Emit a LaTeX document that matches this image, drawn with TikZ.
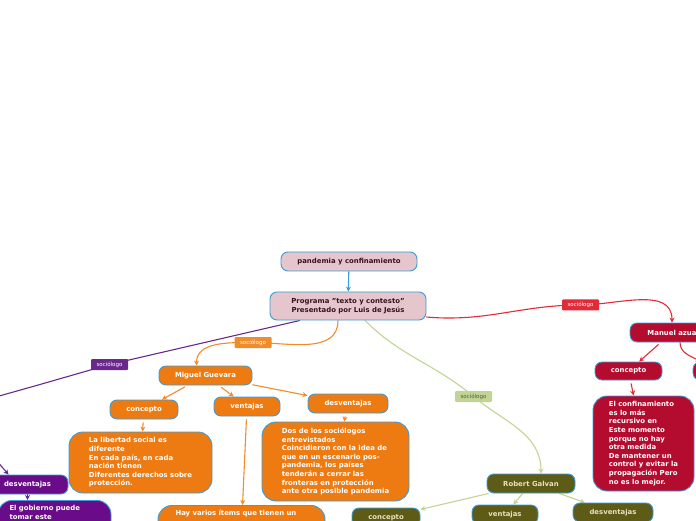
\documentclass[tikz,border=0pt]{standalone}
\usepackage{fontspec}
\setmainfont{DejaVu Sans}
\usepackage{tikz}
\usetikzlibrary{arrows.meta,backgrounds,calc}
\definecolor{mapblue}{RGB}{59,156,217}
\definecolor{rootpink}{RGB}{228,198,204}
\definecolor{roottext}{RGB}{58,16,32}
\definecolor{mgorange}{RGB}{238,123,18}
\definecolor{orangeline}{RGB}{241,140,42}
\definecolor{mared}{RGB}{179,12,47}
\definecolor{redline}{RGB}{226,42,56}
\definecolor{rgolive}{RGB}{94,91,23}
\definecolor{oliveline}{RGB}{193,212,148}
\definecolor{olivetext}{RGB}{230,226,190}
\definecolor{tagolive}{RGB}{88,88,60}
\definecolor{govpurple}{RGB}{106,11,138}
\definecolor{purpleline}{RGB}{106,40,140}
\newcommand{\topicfont}{\fontsize{6.9}{8.6}\selectfont\bfseries}
\newcommand{\tagfont}{\fontsize{5.5}{6.5}\selectfont}
\tikzset{
  topic/.style={rectangle, rounded corners=7pt, draw=mapblue, line width=0.9pt,
                minimum height=19pt, inner sep=3pt, font=\topicfont, text=white},
  roottopic/.style={topic, fill=rootpink, text=roottext},
  orangetopic/.style={topic, fill=mgorange},
  redtopic/.style={topic, fill=mared},
  olivetopic/.style={topic, fill=rgolive, text=olivetext},
  purpletopic/.style={topic, fill=govpurple},
  textbox/.style={rounded corners=14pt, align=left},
  tag/.style={rectangle, rounded corners=1pt, font=\tagfont, text=white,
              minimum width=37pt, minimum height=11pt, inner sep=1pt},
  arrow/.style={-{Stealth[length=5pt,width=5pt]}, line width=1.1pt},
  redarrow/.style={arrow, redline},
  orangearrow/.style={arrow, orangeline},
  olivearrow/.style={arrow, oliveline},
  purplearrow/.style={arrow, purpleline},
}
\begin{document}
\begin{tikzpicture}[x=1pt,y=1pt]
\useasboundingbox (0,0) rectangle (696,520);
% central topics
\node[roottopic, minimum width=136pt] (root) at (349,258.5) {pandemia y confinamiento};
\node[roottopic, minimum width=156pt, minimum height=28pt, align=center] (prog) at (348,214) {Programa "texto y contesto"\\Presentado por Luis de Jesús};

% Manuel azua
\node[redtopic, minimum width=84pt] (manuel) at (672,187.5) {Manuel azua};
\node[redtopic, minimum width=67pt, minimum height=18pt] (rconcept) at (628.5,149) {concepto};
\node[redtopic, minimum width=67pt, minimum height=18pt] (rvent) at (726.5,149) {};
\node[redtopic, textbox, minimum width=101pt, minimum height=95pt] (rbox) at (643.5,76.5) {El confinamiento\\es lo más\\recursivo en\\Este momento\\porque no hay\\otra medida\\De mantener un\\control y evitar la\\propagación Pero\\no es lo mejor.};

% Miguel Guevara
\node[orangetopic, minimum width=93pt] (miguel) at (205.5,144.5) {Miguel Guevara};
\node[orangetopic, minimum width=68pt] (oconcept) at (144,110.5) {concepto};
\node[orangetopic, minimum width=66pt] (ovent) at (247,113.5) {ventajas};
\node[orangetopic, minimum width=80pt] (odesv) at (348,116.5) {desventajas};
\node[orangetopic, textbox, minimum width=143pt, minimum height=61pt] (obox1) at (140.5,57.5) {La libertad social es\\diferente\\En cada país, en cada\\nación tienen\\Diferentes derechos sobre\\protección.};
\node[orangetopic, textbox, minimum width=147pt, minimum height=79pt] (obox3) at (335.5,58.5) {Dos de los sociólogos\\entrevistados\\Coincidieron con la idea de\\que en un escenario pos-\\pandemia, los países\\tenderán a cerrar las\\fronteras en protección\\ante otra posible pandemia};
\node[orangetopic, textbox, anchor=north, minimum width=167pt, text width=132pt, text depth=30pt, inner ysep=5pt] (obox2) at (241.5,15) {Hay varios ítems que tienen un};

% purple branch (main topic outside the frame)
\coordinate (pmain) at (-45,112);
\coordinate (pout) at (-4,60);
\node[purpletopic, minimum width=81pt] (pdesv) at (27.5,35.5) {desventajas};
\node[purpletopic, textbox, anchor=north, minimum width=113pt, text width=90pt, text depth=30pt, inner ysep=5pt] (pbox) at (54.5,20) {El gobierno puede\\tomar este};

% Robert Galvan
\node[olivetopic, minimum width=88pt] (robert) at (531,36.5) {Robert Galvan};
\node[olivetopic, minimum width=68pt] (gconcept) at (386,2.5) {concepto};
\node[olivetopic, minimum width=66pt] (gvent) at (505,5.5) {ventajas};
\node[olivetopic, minimum width=80pt] (gdesv) at (613,7.5) {desventajas};

% relation tags
\node[tag, fill=redline] (rtag) at (580.5,215) {sociólogo};
\node[tag, fill=orangeline] (otag) at (253,177.5) {sociólogo};
\node[tag, fill=purpleline] (ptag) at (109.5,155.5) {sociólogo};
\node[tag, fill=oliveline, text=tagolive] (gtag) at (473.5,123.5) {sociólogo};

\begin{scope}[on background layer]
\draw[arrow, mapblue] (root) -- (prog);

\draw[redarrow] (prog.-8) to[out=-5,in=180] (rtag.center) to[out=0,in=90] (manuel.north);
\draw[redarrow, shorten <=3pt] (manuel) -- (rconcept);
\draw[redarrow] ($(manuel.south)+(8,0)$) to[out=-90,in=150] ($(rvent.north west)+(8,0)$);
\draw[redarrow, shorten <=3pt] (rconcept) -- (rbox);

\draw[orangearrow] ($(prog.south)+(-10,0)$) to[out=-90,in=0] (otag.center) to[out=180,in=90] ($(miguel.north)+(-9,0)$);
\draw[orangearrow, shorten <=3pt] (miguel) -- (oconcept);
\draw[orangearrow, shorten <=3pt] (miguel) -- (ovent);
\draw[orangearrow] (miguel) -- (odesv);
\draw[orangearrow, shorten <=3pt] (oconcept) -- (obox1);
\draw[orangearrow, shorten <=3pt] (ovent) -- (obox2);
\draw[orangearrow, shorten <=3pt] (odesv) -- (obox3);

\draw[purplearrow] ($(prog.south)+(-48,0)$) to[out=193,in=13] (ptag.center) to[out=196,in=15] (pmain);
\draw[purplearrow] (pout) -- ($(pdesv.north west)+(22,0)$);
\draw[purplearrow] (pdesv.south) -- (pdesv.south |- pbox.north);

\draw[olivearrow] ($(prog.south)+(17,0)$) to[out=-45,in=140] (gtag.center) to[out=-40,in=90] ($(robert.north)+(10,0)$);
\draw[olivearrow] (robert) -- (gconcept);
\draw[olivearrow] (robert) -- (gvent);
\draw[olivearrow] (robert) -- (gdesv);
\end{scope}
\end{tikzpicture}
\end{document}
